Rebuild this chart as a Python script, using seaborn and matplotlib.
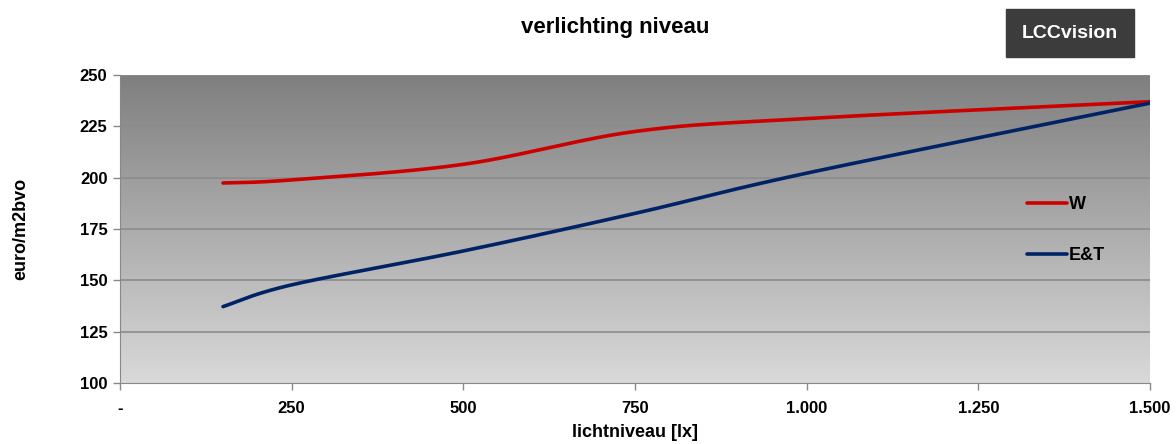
import numpy as np
import pandas as pd
import matplotlib
matplotlib.use("Agg")
import matplotlib.pyplot as plt
import seaborn as sns
from matplotlib.ticker import FuncFormatter

# data
lux = [150, 250, 500, 750, 1000, 1500]
w_values = [197.4, 198.9, 206.5, 222.5, 228.8, 237.0]
et_values = [137.2, 147.8, 164.3, 182.6, 202.2, 236.3]
series_names = ["W", "E&T"]
colors = ["#cc0000", "#002366"]


# Excel-like smoothed line (Catmull-Rom through the points)
def smooth(xs, ys, n=40):
    p = np.column_stack([xs, ys]).astype(float)
    scale = np.array([1030 / 1500, 308 / 150])
    p = p * scale
    pts = np.vstack([p[0], p, p[-1]])
    out = []
    for i in range(1, len(pts) - 2):
        p0, p1, p2, p3 = pts[i - 1], pts[i], pts[i + 1], pts[i + 2]
        t = np.linspace(0, 1, n)[:, None]
        c = 0.5 * ((2 * p1) + (-p0 + p2) * t + (2 * p0 - 5 * p1 + 4 * p2 - p3) * t ** 2
                   + (-p0 + 3 * p1 - 3 * p2 + p3) * t ** 3)
        out.append(c if i == len(pts) - 3 else c[:-1])
    out = np.vstack(out) / scale
    return out[:, 0], out[:, 1]


frames = []
for name, vals in zip(series_names, [w_values, et_values]):
    sx, sy = smooth(lux, vals)
    frames.append(pd.DataFrame({"lux": sx, "euro": sy, "serie": name}))
df = pd.concat(frames, ignore_index=True)

sns.set_style("white")
plt.rcParams["font.family"] = ["Liberation Sans", "DejaVu Sans"]
plt.rcParams["font.weight"] = "bold"
plt.rcParams["text.color"] = "black"

fig = plt.figure(figsize=(11.76, 4.44), dpi=100)
ax = fig.add_axes([120 / 1176, 61 / 444, 1030 / 1176, 308 / 444])

# gradient background
grad = np.linspace(0, 1, 256)[:, None]
ax.imshow(grad, extent=[0, 1, 0, 1], transform=ax.transAxes, aspect="auto",
          cmap=matplotlib.colors.LinearSegmentedColormap.from_list("g", ["#7f7f7f", "#d9d9d9"]),
          zorder=0)

for y in range(125, 251, 25):
    ax.axhline(y, color="#8c8c8c", lw=1.2, zorder=1)

sns.lineplot(data=df, x="lux", y="euro", hue="serie", palette=colors, sort=False,
             estimator=None, lw=2.6, ax=ax, zorder=3)

ax.set_xlim(0, 1500)
ax.set_ylim(100, 250)
ax.set_xticks(range(0, 1501, 250))
ax.set_yticks(range(100, 251, 25))
ax.xaxis.set_major_formatter(FuncFormatter(lambda v, p: "-" if v == 0 else f"{int(v):,}".replace(",", ".")))
ax.tick_params(axis="both", labelsize=12, length=5, color="#888888", direction="out", width=1,
               bottom=True, left=True, labelcolor="black")
ax.tick_params(axis="x", pad=8)
ax.tick_params(axis="y", pad=4)
for lbl in ax.get_xticklabels() + ax.get_yticklabels():
    lbl.set_fontweight("bold")
for s in ["top", "right"]:
    ax.spines[s].set_visible(False)
for s in ["left", "bottom"]:
    ax.spines[s].set_color("#888888")

ax.set_xlabel("lichtniveau [lx]", fontsize=13, fontweight="bold", labelpad=6, color="black")
ax.set_ylabel("euro/m2bvo", fontsize=13, fontweight="bold", labelpad=36, color="black")
fig.text(0.523, 1 - 28 / 444, "verlichting niveau", ha="center", va="center", fontsize=16,
         fontweight="bold", color="black")

leg = ax.legend(loc="upper left", bbox_to_anchor=(0.865, 0.66), frameon=False,
                handlelength=2.2, handletextpad=0.1, labelspacing=1.9, fontsize=13)
for t in leg.get_texts():
    t.set_fontweight("bold")
    t.set_color("black")

fig.text(1070 / 1176, 1 - 33 / 444, "LCCvision", ha="center", va="center", color="white",
         fontsize=14, fontweight="bold",
         bbox=dict(boxstyle="square,pad=0.8", fc="#3c3c3c", ec="#3c3c3c"))

fig.savefig("out.png", dpi=100)
